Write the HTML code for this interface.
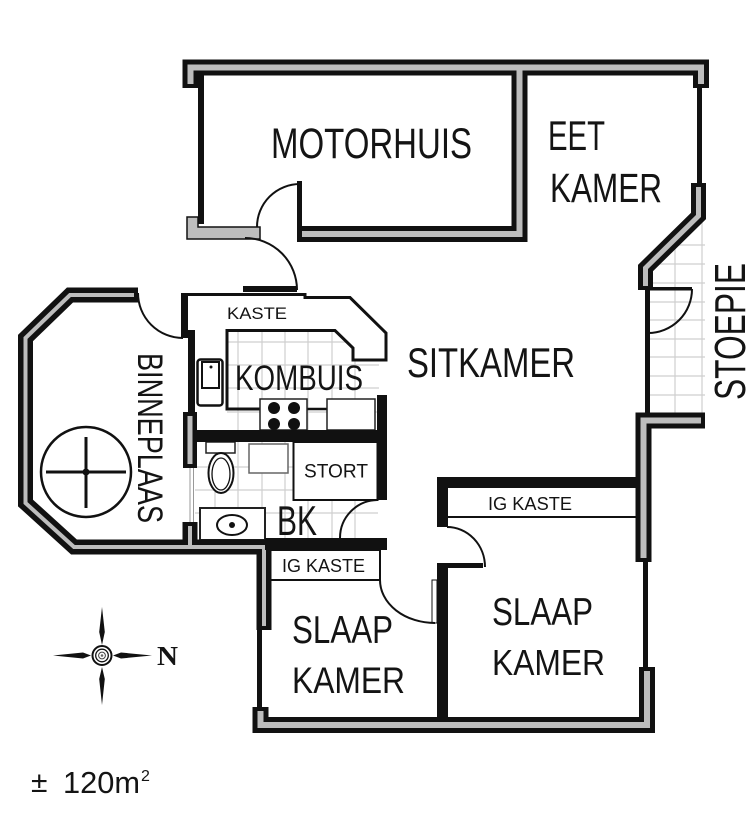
<!DOCTYPE html>
<html><head><meta charset="utf-8"><style>
html,body{margin:0;padding:0;background:#fff;}
svg{display:block;}
text{font-family:"Liberation Sans",sans-serif;fill:#141414;}
</style></head><body>
<svg width="756" height="816" viewBox="0 0 756 816" xmlns="http://www.w3.org/2000/svg">
<defs>
<clipPath id="cs"><polygon points="650,268 703,215 705,215 705,413 650,413"/></clipPath>
<clipPath id="ck"><rect x="227" y="330" width="152" height="100"/></clipPath>
<clipPath id="cb"><rect x="195" y="442" width="183" height="96"/></clipPath>
</defs>

<!-- tile grids -->
<g stroke="#cfcfcf" stroke-width="1.2" fill="none" clip-path="url(#ck)">
<path d="M238,330V430M262,330V430M285,330V430M308,330V430M332,330V430M355,330V430M227,342H380M227,365H380M227,388H380M227,412H380"/>
</g>
<g stroke="#cfcfcf" stroke-width="1.2" fill="none" clip-path="url(#cb)">
<path d="M215,442V538M238,442V538M262,442V538M285,442V538M308,442V538M332,442V538M355,442V538M195,467H380M195,490H380M195,513H380"/>
</g>
<g stroke="#cfcfcf" stroke-width="1.2" fill="none" clip-path="url(#cs)">
<path d="M675,210V413M702,210V413M650,245H705M650,264H705M650,283H705M650,302H705M650,320H705M650,339H705M650,357H705M650,376H705M650,395H705"/>
</g>

<!-- kitchen counters -->
<polygon points="335,330 353,348 353,360 387,360 387,330" fill="#fff"/>
<polyline points="185,294.5 305,294.5 305,297.5 350,297.5 386,333 386,360 353,360 353,348 335,330.5 227,330.5 227,409 260,409" fill="none" stroke="#111" stroke-width="3"/>
<line x1="307" y1="409" x2="327" y2="409" stroke="#111" stroke-width="2.5"/>
<rect x="260" y="399" width="47" height="31" fill="#fff" stroke="#222" stroke-width="1.5"/>
<circle cx="274" cy="408" r="6" fill="#111"/><circle cx="294" cy="408" r="6" fill="#111"/>
<circle cx="274" cy="424" r="6" fill="#111"/><circle cx="294" cy="424" r="6" fill="#111"/>
<rect x="327" y="399" width="48" height="31" fill="#fff" stroke="#222" stroke-width="1.5"/>
<!-- fridge -->
<rect x="197.5" y="359.5" width="25" height="46" rx="3" fill="#fff" stroke="#111" stroke-width="2.5"/>
<rect x="202" y="362" width="17" height="26" fill="#fff" stroke="#111" stroke-width="2"/>
<circle cx="211" cy="367" r="1.5" fill="#111"/>

<!-- bathroom -->
<rect x="293.5" y="442" width="84" height="58" fill="#fff" stroke="#111" stroke-width="2"/>
<rect x="249" y="444" width="39" height="29" fill="#fff" stroke="#666" stroke-width="1.5"/>
<rect x="206" y="442" width="29" height="11" fill="#fff" stroke="#222" stroke-width="1.5"/>
<ellipse cx="221" cy="473" rx="12.5" ry="20" fill="#fff" stroke="#111" stroke-width="2"/>
<ellipse cx="221" cy="474" rx="9" ry="16" fill="none" stroke="#111" stroke-width="1.3"/>
<rect x="200" y="508" width="65" height="32" fill="#fff" stroke="#222" stroke-width="2"/>
<ellipse cx="232" cy="525" rx="15" ry="10" fill="none" stroke="#111" stroke-width="2"/>
<circle cx="232" cy="525" r="3" fill="#111"/>
<!-- window lines -->
<path d="M190,466V524M193.5,466V524" stroke="#999" stroke-width="1"/>

<!-- IG kaste boxes -->
<rect x="270" y="550" width="110" height="30" fill="#fff" stroke="#111" stroke-width="2"/>
<rect x="447" y="487" width="190" height="30" fill="#fff" stroke="#111" stroke-width="2"/>

<!-- walls: black cores -->
<g fill="none" stroke="#111" stroke-linejoin="miter" stroke-linecap="butt">
<polyline points="190.5,88 190.5,67.5 701,67.5 701,88" stroke-width="16"/>
<polyline points="297,234 519.5,234 519.5,67.5" stroke-width="16"/>
<polyline points="698.5,183 698.5,216 645.5,268 645.5,290" stroke-width="15"/>
<polyline points="705,420.5 643.5,420.5 643.5,562" stroke-width="16"/>
<polyline points="647,667 647,725 260.5,725 260.5,707" stroke-width="16"/>
<polyline points="138,295 70,295 25.5,338 25.5,503 74,547 264,547 264,630" stroke-width="15"/>
<polyline points="190,547 190,522" stroke-width="15"/>
<polyline points="190,412 190,468" stroke-width="14"/>
</g>
<g fill="none" stroke="#bdbdbd" stroke-linejoin="miter" stroke-linecap="butt" stroke-width="5">
<polyline points="190.5,84 190.5,67.5 701,67.5 701,84" stroke-width="6"/>
<polyline points="302,234 519.5,234 519.5,67.5" stroke-width="6"/>
<polyline points="698.5,187 698.5,216 645.5,268 645.5,286"/>
<polyline points="701,420.5 643.5,420.5 643.5,558" stroke-width="6"/>
<polyline points="647,671 647,725 260.5,725 260.5,711" stroke-width="6"/>
<polyline points="134,295 70,295 25.5,338 25.5,503 74,547 264,547 264,626" stroke-width="4"/>
<polyline points="190,547 190,526" stroke-width="4"/>
<polyline points="190,416 190,464" stroke-width="5"/>
</g>

<!-- single walls -->
<g fill="#111">
<rect x="198" y="75" width="6" height="149"/>
<rect x="697" y="87" width="5" height="97"/>
<rect x="645" y="290" width="5" height="124"/>
<rect x="643" y="560" width="5" height="108"/>
<rect x="257" y="628" width="5" height="81"/>
<rect x="181" y="293" width="7" height="45"/>
<rect x="188" y="330" width="7" height="84"/>
<rect x="195" y="430" width="192" height="12"/>
<rect x="377" y="395" width="10" height="105"/>
<rect x="265" y="538" width="122" height="12"/>
<rect x="437" y="477" width="200" height="10"/>
<rect x="437" y="477" width="11" height="50"/>
<rect x="437" y="563" width="11" height="155"/>
<rect x="437" y="563" width="46" height="5"/>
<rect x="297" y="181" width="5" height="47"/>
<rect x="243" y="286" width="54" height="6"/>
<rect x="648" y="287" width="44" height="3.5"/>
</g>
<rect x="432" y="580" width="5" height="43" fill="#fff" stroke="#111" stroke-width="1"/>
<!-- grey bar -->
<polygon points="187,217 198,217 198,227 260,227 260,239 187,239" fill="#bdbdbd" stroke="#111" stroke-width="1.5"/>

<!-- door arcs -->
<g fill="none" stroke="#111" stroke-width="2">
<path d="M257,227 A43,43 0 0 1 300,184"/>
<path d="M297,290 A52,52 0 0 0 245,238"/>
<path d="M138,293 A45,45 0 0 0 183,338"/>
<path d="M692,289 A44,44 0 0 1 648,333"/>
<path d="M377,500 A38,38 0 0 0 340,538"/>
<path d="M447,527 A38,40 0 0 1 485,567"/>
<path d="M380,580 A55,43 0 0 0 435,623"/>
</g>

<!-- binneplaas circle -->
<circle cx="86" cy="472" r="45" fill="none" stroke="#111" stroke-width="2.5"/>
<path d="M46,472H126M86,437V508" stroke="#111" stroke-width="3"/>
<circle cx="86" cy="472" r="3.5" fill="#111"/>

<!-- compass -->
<g fill="#111">
<polygon points="102,607 104.8,632 102,645 99.2,632"/>
<polygon points="102,705 104.8,679 102,667 99.2,679"/>
<polygon points="53,655.5 83,652.5 91,655.5 83,658.5"/>
<polygon points="152,655.5 121,652.5 113,655.5 121,658.5"/>
</g>
<circle cx="102" cy="655.5" r="9.5" fill="#fff" stroke="#111" stroke-width="2"/>
<circle cx="102" cy="655.5" r="6.3" fill="none" stroke="#111" stroke-width="1.3"/>
<circle cx="102" cy="655.5" r="3.4" fill="none" stroke="#444" stroke-width="1"/>
<circle cx="102" cy="655.5" r="1.3" fill="#666"/>
<text x="157" y="665" font-family="Liberation Serif, serif" font-weight="bold" font-size="27" textLength="21" lengthAdjust="spacingAndGlyphs" style="font-family:'Liberation Serif',serif">N</text>

<!-- labels -->
<g lengthAdjust="spacingAndGlyphs">
<text x="271" y="158" font-size="43" textLength="201" lengthAdjust="spacingAndGlyphs">MOTORHUIS</text>
<text x="548" y="150" font-size="42" textLength="57" lengthAdjust="spacingAndGlyphs">EET</text>
<text x="550" y="202" font-size="41" textLength="112" lengthAdjust="spacingAndGlyphs">KAMER</text>
<text x="407" y="377" font-size="42" textLength="168" lengthAdjust="spacingAndGlyphs">SITKAMER</text>
<text x="235" y="390" font-size="35" textLength="128" lengthAdjust="spacingAndGlyphs">KOMBUIS</text>
<text x="227" y="319" font-size="16.5" textLength="60" lengthAdjust="spacingAndGlyphs">KASTE</text>
<text x="304" y="477.5" font-size="19.5" textLength="64" lengthAdjust="spacingAndGlyphs">STORT</text>
<text x="277" y="535" font-size="42" textLength="40" lengthAdjust="spacingAndGlyphs">BK</text>
<text x="282" y="572" font-size="18.5" textLength="83" lengthAdjust="spacingAndGlyphs">IG KASTE</text>
<text x="488" y="510" font-size="18" textLength="84" lengthAdjust="spacingAndGlyphs">IG KASTE</text>
<text x="292" y="643" font-size="39" textLength="101" lengthAdjust="spacingAndGlyphs">SLAAP</text>
<text x="292" y="693" font-size="37" textLength="113" lengthAdjust="spacingAndGlyphs">KAMER</text>
<text x="492" y="625" font-size="39" textLength="101" lengthAdjust="spacingAndGlyphs">SLAAP</text>
<text x="492" y="675" font-size="36" textLength="113" lengthAdjust="spacingAndGlyphs">KAMER</text>
<text transform="translate(138,353) rotate(90)" x="0" y="0" font-size="35" textLength="170" lengthAdjust="spacingAndGlyphs">BINNEPLAAS</text>
<text transform="translate(745,400) rotate(-90)" x="0" y="0" font-size="44" textLength="137" lengthAdjust="spacingAndGlyphs">STOEPIE</text>
</g>

<!-- area -->
<text x="31" y="792" font-size="30">±</text>
<text x="63" y="793" font-size="31" textLength="77" lengthAdjust="spacingAndGlyphs">120m</text>
<text x="141" y="781" font-size="16">2</text>
</svg>
</body></html>
